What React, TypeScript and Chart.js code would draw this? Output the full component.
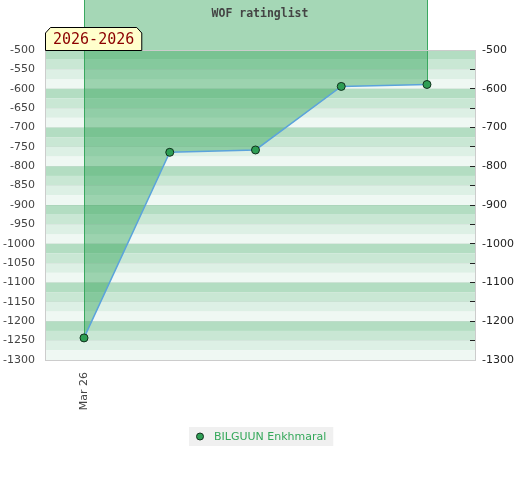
import React, { useEffect, useRef } from 'react';
import { Chart, registerables } from 'chart.js';

Chart.register(...registerables);

// ---- data ----
const chartTitle = 'WOF ratinglist';
const periodLabel = '2026-2026';
const playerName = 'BILGUUN Enkhmaral';
const xPositions = [0, 1, 2, 3, 4];
const ratingValues = [-1243, -764, -758, -594, -589];
const xTickValues = [0];
const xTickLabels = ['Mar 26'];
const yMin = -1300;
const yMax = -500;
const yStep = 50;
const xMin = -0.455;
const xMax = 4.56;

// ---- styles ----
const bandColors = ['#b3ddc2', '#c9e7d4', '#ddf0e5', '#eff8f3'];
const bandSize = 25;
const fillColor = 'rgba(40,160,80,0.42)';
const fillEdge = '#3aa860';
const lineColor = '#5ba3dc';
const pointFill = '#2e9e54';
const pointEdge = '#10301c';
const legendText = '#34a85a';
const sansFont = 'DejaVu Sans';
const monoFont = 'DejaVu Sans Mono';

const decorPlugin = {
  id: 'decor',
  beforeDraw(chart: any) {
    const { ctx, chartArea: a, scales } = chart;
    const y = scales.y;
    ctx.save();
    let k = 0;
    for (let v = yMax; v > yMin; v -= bandSize, k++) {
      const t = y.getPixelForValue(v);
      const b = y.getPixelForValue(v - bandSize);
      ctx.fillStyle = bandColors[k % bandColors.length];
      ctx.fillRect(a.left, t, a.right - a.left, b - t);
    }
    const pts = chart.getDatasetMeta(0).data;
    if (pts.length) {
      const first = pts[0];
      const last = pts[pts.length - 1];
      ctx.beginPath();
      ctx.moveTo(first.x, 0);
      pts.forEach((p: any) => ctx.lineTo(p.x, p.y));
      ctx.lineTo(last.x, 0);
      ctx.closePath();
      ctx.fillStyle = fillColor;
      ctx.fill();
      ctx.strokeStyle = fillEdge;
      ctx.lineWidth = 1;
      ctx.beginPath();
      ctx.moveTo(Math.round(first.x) + 0.5, 0);
      ctx.lineTo(Math.round(first.x) + 0.5, first.y);
      ctx.moveTo(Math.round(last.x) + 0.5, 0);
      ctx.lineTo(Math.round(last.x) + 0.5, last.y);
      ctx.stroke();
    }
    ctx.restore();
  },
  beforeDatasetsDraw(chart: any) {
    const { ctx, chartArea: a } = chart;
    ctx.save();
    ctx.strokeStyle = '#cccccc';
    ctx.lineWidth = 1;
    ctx.beginPath();
    ctx.moveTo(a.left, Math.round(a.top) + 0.5);
    ctx.lineTo(a.right, Math.round(a.top) + 0.5);
    ctx.stroke();
    ctx.restore();
  },
  afterDraw(chart: any) {
    const { ctx, chartArea: a, width } = chart;
    ctx.save();
    // period label box
    ctx.font = `15px "${monoFont}"`;
    const tw = ctx.measureText(periodLabel).width;
    const x0 = Math.round(a.left) + 0.5;
    const x1 = x0 + tw + 15;
    const yb = Math.round(a.top) + 0.5;
    const yt = yb - 23;
    ctx.beginPath();
    ctx.moveTo(x0, yb);
    ctx.lineTo(x0, yt + 5.5);
    ctx.lineTo(x0 + 5, yt);
    ctx.lineTo(x1 - 5, yt);
    ctx.lineTo(x1, yt + 5.5);
    ctx.lineTo(x1, yb);
    ctx.closePath();
    ctx.fillStyle = '#ffffcc';
    ctx.fill();
    ctx.strokeStyle = '#000000';
    ctx.lineWidth = 1;
    ctx.stroke();
    ctx.fillStyle = '#8b0000';
    ctx.textBaseline = 'middle';
    ctx.textAlign = 'left';
    ctx.fillText(periodLabel, x0 + 7.5, (yt + yb) / 2 + 1);

    // legend
    ctx.font = `11px "${sansFont}"`;
    const lw = ctx.measureText(playerName).width;
    const boxW = 25 + lw + 7;
    const bx = Math.round(width / 2 - boxW / 2) + 1;
    const by = 427;
    ctx.fillStyle = '#f0f0f0';
    ctx.fillRect(bx, by, boxW, 19);
    ctx.beginPath();
    ctx.arc(bx + 11, by + 9.5, 3.5, 0, Math.PI * 2);
    ctx.fillStyle = pointFill;
    ctx.fill();
    ctx.strokeStyle = pointEdge;
    ctx.stroke();
    ctx.fillStyle = legendText;
    ctx.textBaseline = 'middle';
    ctx.fillText(playerName, bx + 25, by + 10);
    ctx.restore();
  },
};

export default function App() {
  const ref = useRef<HTMLCanvasElement | null>(null);
  useEffect(() => {
    document.body.style.margin = '0';
    const canvas = ref.current;
    if (!canvas) return;
    const tickFont = { family: sansFont, size: 11 };
    const chart = new Chart(canvas, {
      type: 'line',
      data: {
        datasets: [
          {
            label: playerName,
            data: xPositions.map((x, i) => ({ x, y: ratingValues[i] })),
            borderColor: lineColor,
            borderWidth: 1.5,
            pointRadius: 4,
            pointBackgroundColor: pointFill,
            pointBorderColor: pointEdge,
            pointBorderWidth: 1,
            fill: false,
            tension: 0,
            yAxisID: 'y',
            clip: false as any,
          },
        ],
      },
      options: {
        animation: false,
        responsive: false,
        layout: { padding: 0 },
        plugins: {
          legend: { display: false },
          tooltip: { enabled: false },
          title: {
            display: true,
            text: chartTitle,
            color: '#444444',
            font: { family: monoFont, size: 11.5, weight: 'bold' },
            padding: { top: 7, bottom: 29.2 },
          },
        },
        scales: {
          x: {
            type: 'linear',
            min: xMin,
            max: xMax,
            afterBuildTicks: (s: any) => {
              s.ticks = xTickValues.map((v) => ({ value: v }));
            },
            afterFit: (s: any) => {
              s.height = 120;
            },
            ticks: {
              callback: (_v: any, i: number) => xTickLabels[i] ?? '',
              minRotation: 90,
              maxRotation: 90,
              autoSkip: false,
              padding: 4,
              color: '#444444',
              font: tickFont,
            },
            grid: { display: false },
            border: { color: '#cccccc' },
          },
          y: {
            position: 'left',
            min: yMin,
            max: yMax,
            afterFit: (s: any) => {
              s.width = 45;
            },
            ticks: {
              stepSize: yStep,
              callback: (v: any) => String(v),
              padding: 10,
              color: '#444444',
              font: tickFont,
            },
            grid: { drawTicks: false, color: 'rgba(0,0,0,0.035)' },
            border: { color: '#cccccc' },
          },
          y2: {
            position: 'right',
            min: yMin,
            max: yMax,
            afterFit: (s: any) => {
              s.width = 45;
            },
            ticks: {
              stepSize: yStep,
              callback: (v: any) => (Number(v) % 100 === 0 ? String(v) : ''),
              padding: 12,
              color: '#222222',
              font: tickFont,
            },
            grid: { drawOnChartArea: false, tickLength: -5, color: '#222222' },
            border: { color: '#cccccc' },
          },
        },
      } as any,
      plugins: [decorPlugin],
    });
    return () => chart.destroy();
  }, []);
  return (
    <div style={{ width: 520, height: 480 }}>
      <canvas ref={ref} width={520} height={480} style={{ display: 'block' }} />
    </div>
  );
}
